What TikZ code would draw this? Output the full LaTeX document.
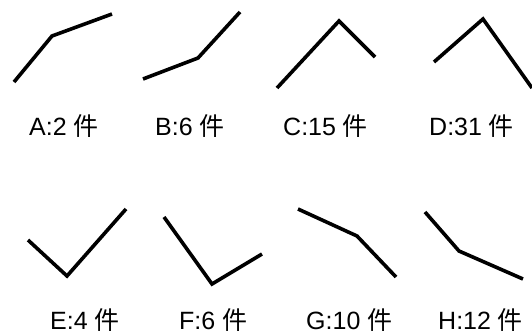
\documentclass[tikz,border=0pt]{standalone}
\usepackage{fontspec}
\setmainfont{Liberation Sans}
\newfontfamily\cjk{Noto Sans CJK SC}
\begin{document}
\begin{tikzpicture}[x=1pt,y=-1pt,
  shape line/.style={line width=3.6pt,line join=miter,black},
  caption/.style={anchor=base west,inner sep=0pt,font=\fontsize{25}{29}\selectfont}]
\useasboundingbox (0,0) rectangle (532,333);
% top row of shapes
\draw[shape line] (14,82) -- (52,36) -- (112,14);
\draw[shape line] (143,79) -- (198,58) -- (240,12);
\draw[shape line] (277,88) -- (339,21) -- (375,57);
\draw[shape line] (434,62) -- (483,19) -- (532,88);
% bottom row of shapes
\draw[shape line] (28,240) -- (67,276) -- (126,209);
\draw[shape line] (164,217) -- (212,284) -- (262,254);
\draw[shape line] (298,209) -- (357,236) -- (396,277);
\draw[shape line] (425,212) -- (459,251) -- (523,279);
% captions
\node[caption] (la) at (29,135) {A:2 {\cjk 件}};
\node[caption] (lb) at (155,135) {B:6 {\cjk 件}};
\node[caption] (lc) at (283,135) {C:15 {\cjk 件}};
\node[caption] (ld) at (429,135) {D:31 {\cjk 件}};
\node[caption] (le) at (50,329) {E:4 {\cjk 件}};
\node[caption] (lf) at (179,329) {F:6 {\cjk 件}};
\node[caption] (lg) at (306,329) {G:10 {\cjk 件}};
\node[caption] (lh) at (438,329) {H:12 {\cjk 件}};
\end{tikzpicture}
\end{document}
